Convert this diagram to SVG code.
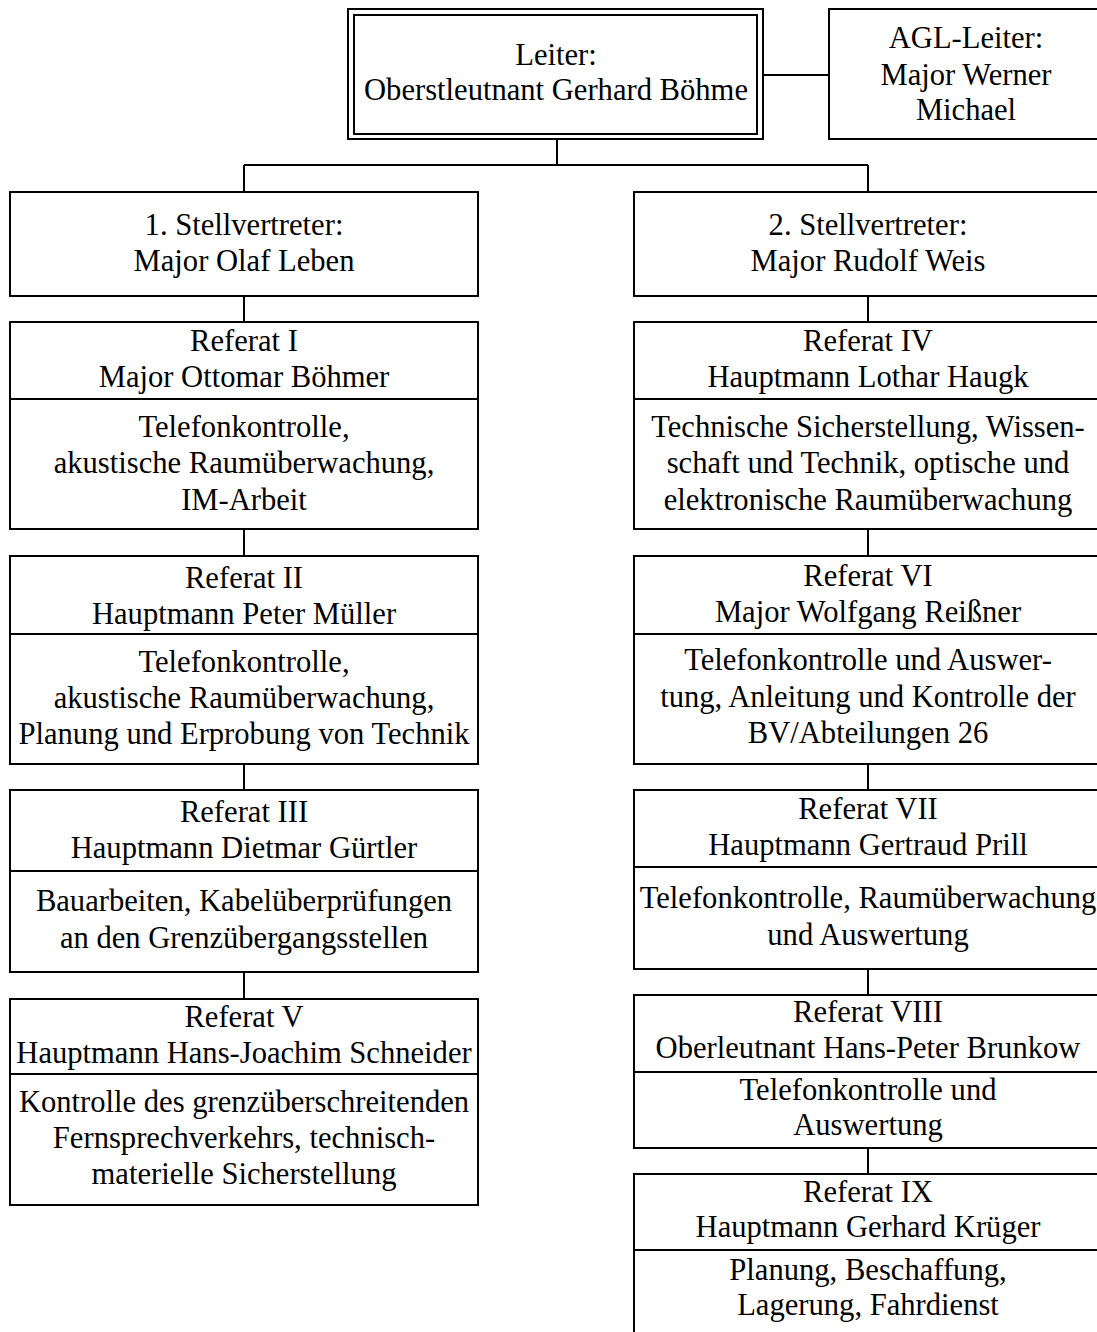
<svg xmlns="http://www.w3.org/2000/svg" width="1097" height="1332" viewBox="0 0 1097 1332">
  <style>
    .box { fill: #ffffff; stroke: #000000; stroke-width: 2; }
    .div { stroke: #000000; stroke-width: 2; fill: none; }
    .conn { stroke: #000000; stroke-width: 2; fill: none; }
    text { font-family: "Liberation Serif", "Times New Roman", serif; font-size: 30.6px; fill: #000000; text-anchor: middle; }
  </style>
  <rect x="0" y="0" width="1097" height="1332" fill="#ffffff"/>

  <!-- connectors -->
  <g id="connectors">
    <line class="conn" x1="763" y1="75" x2="829" y2="75"/>
    <line class="conn" x1="557" y1="139" x2="557" y2="165"/>
    <line class="conn" x1="244" y1="165" x2="868" y2="165"/>
    <line class="conn" x1="244" y1="165" x2="244" y2="192"/>
    <line class="conn" x1="868" y1="165" x2="868" y2="192"/>
    <!-- left chain -->
    <line class="conn" x1="244" y1="296" x2="244" y2="322"/>
    <line class="conn" x1="244" y1="529" x2="244" y2="556"/>
    <line class="conn" x1="244" y1="764" x2="244" y2="790"/>
    <line class="conn" x1="244" y1="972" x2="244" y2="999"/>
    <!-- right chain -->
    <line class="conn" x1="868" y1="296" x2="868" y2="322"/>
    <line class="conn" x1="868" y1="529" x2="868" y2="556"/>
    <line class="conn" x1="868" y1="764" x2="868" y2="790"/>
    <line class="conn" x1="868" y1="969" x2="868" y2="995"/>
    <line class="conn" x1="868" y1="1148" x2="868" y2="1174"/>
  </g>

  <!-- head of department, double frame -->
  <g id="leiter">
    <rect class="box" x="348" y="9" width="415" height="130"/>
    <rect class="box" x="354" y="15" width="403" height="119"/>
    <text x="556" y="65">Leiter:</text>
    <text x="556" y="100">Oberstleutnant Gerhard Böhme</text>
  </g>

  <g id="agl">
    <rect class="box" x="829" y="9" width="275" height="130"/>
    <text x="966" y="48">AGL-Leiter:</text>
    <text x="966" y="85">Major Werner</text>
    <text x="966" y="120">Michael</text>
  </g>

  <g id="stellv1">
    <rect class="box" x="10" y="192" width="468" height="104"/>
    <text x="244" y="235">1. Stellvertreter:</text>
    <text x="244" y="271">Major Olaf Leben</text>
  </g>

  <g id="stellv2">
    <rect class="box" x="634" y="192" width="470" height="104"/>
    <text x="868" y="235">2. Stellvertreter:</text>
    <text x="868" y="271">Major Rudolf Weis</text>
  </g>

  <g id="referat-1">
    <rect class="box" x="10" y="322" width="468" height="207"/>
    <line class="div" x1="10" y1="399" x2="478" y2="399"/>
    <text x="244" y="351">Referat I</text>
    <text x="244" y="387">Major Ottomar Böhmer</text>
    <text x="244" y="437">Telefonkontrolle,</text>
    <text x="244" y="473">akustische Raumüberwachung,</text>
    <text x="244" y="510">IM-Arbeit</text>
  </g>

  <g id="referat-2">
    <rect class="box" x="10" y="556" width="468" height="208"/>
    <line class="div" x1="10" y1="634" x2="478" y2="634"/>
    <text x="244" y="588">Referat II</text>
    <text x="244" y="624">Hauptmann Peter Müller</text>
    <text x="244" y="672">Telefonkontrolle,</text>
    <text x="244" y="708">akustische Raumüberwachung,</text>
    <text x="244" y="744">Planung und Erprobung von Technik</text>
  </g>

  <g id="referat-3">
    <rect class="box" x="10" y="790" width="468" height="182"/>
    <line class="div" x1="10" y1="871" x2="478" y2="871"/>
    <text x="244" y="822">Referat III</text>
    <text x="244" y="858">Hauptmann Dietmar Gürtler</text>
    <text x="244" y="911">Bauarbeiten, Kabelüberprüfungen</text>
    <text x="244" y="948">an den Grenzübergangsstellen</text>
  </g>

  <g id="referat-5">
    <rect class="box" x="10" y="999" width="468" height="206"/>
    <line class="div" x1="10" y1="1074" x2="478" y2="1074"/>
    <text x="244" y="1027">Referat V</text>
    <text x="244" y="1063">Hauptmann Hans-Joachim Schneider</text>
    <text x="244" y="1112">Kontrolle des grenzüberschreitenden</text>
    <text x="244" y="1148">Fernsprechverkehrs, technisch-</text>
    <text x="244" y="1184">materielle Sicherstellung</text>
  </g>

  <g id="referat-4">
    <rect class="box" x="634" y="322" width="470" height="207"/>
    <line class="div" x1="634" y1="399" x2="1104" y2="399"/>
    <text x="868" y="351">Referat IV</text>
    <text x="868" y="387">Hauptmann Lothar Haugk</text>
    <text x="868" y="437">Technische Sicherstellung, Wissen-</text>
    <text x="868" y="473">schaft und Technik, optische und</text>
    <text x="868" y="510">elektronische Raumüberwachung</text>
  </g>

  <g id="referat-6">
    <rect class="box" x="634" y="556" width="470" height="208"/>
    <line class="div" x1="634" y1="634" x2="1104" y2="634"/>
    <text x="868" y="586">Referat VI</text>
    <text x="868" y="622">Major Wolfgang Reißner</text>
    <text x="868" y="670">Telefonkontrolle und Auswer-</text>
    <text x="868" y="707">tung, Anleitung und Kontrolle der</text>
    <text x="868" y="743">BV/Abteilungen 26</text>
  </g>

  <g id="referat-7">
    <rect class="box" x="634" y="790" width="470" height="179"/>
    <line class="div" x1="634" y1="867" x2="1104" y2="867"/>
    <text x="868" y="819">Referat VII</text>
    <text x="868" y="855">Hauptmann Gertraud Prill</text>
    <text x="868" y="908">Telefonkontrolle, Raumüberwachung</text>
    <text x="868" y="945">und Auswertung</text>
  </g>

  <g id="referat-8">
    <rect class="box" x="634" y="995" width="470" height="153"/>
    <line class="div" x1="634" y1="1072" x2="1104" y2="1072"/>
    <text x="868" y="1022">Referat VIII</text>
    <text x="868" y="1058">Oberleutnant Hans-Peter Brunkow</text>
    <text x="868" y="1100">Telefonkontrolle und</text>
    <text x="868" y="1135">Auswertung</text>
  </g>

  <g id="referat-9">
    <rect class="box" x="634" y="1174" width="470" height="170"/>
    <line class="div" x1="634" y1="1250" x2="1104" y2="1250"/>
    <text x="868" y="1202">Referat IX</text>
    <text x="868" y="1237">Hauptmann Gerhard Krüger</text>
    <text x="868" y="1280">Planung, Beschaffung,</text>
    <text x="868" y="1315">Lagerung, Fahrdienst</text>
  </g>
</svg>
